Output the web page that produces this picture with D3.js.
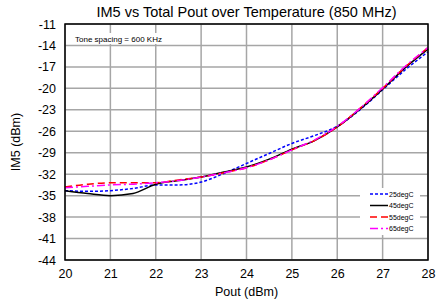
<!DOCTYPE html>
<html>
<head>
<meta charset="utf-8">
<script src="https://cdn.jsdelivr.net/npm/d3@7"></script>
<style>
  body { margin: 0; background: #fff; }
  text { font-family: "Liberation Sans", Arial, sans-serif; }
</style>
</head>
<body>
<div id="chart"></div>
<script>
var margin = {top: 24, right: 14, bottom: 45, left: 65},
    width = 442 - margin.left - margin.right,
    height = 305 - margin.top - margin.bottom;

// data
var pout = [20, 20.5, 21, 21.5, 22, 22.5, 23, 23.5, 24, 24.5, 25, 25.5, 26, 26.5, 27, 27.5, 28];
var im5_25 = [-34.3, -34.4, -34.3, -34.0, -33.5, -33.5, -33.1, -31.9, -30.5, -29.1, -27.7, -26.6, -25.3, -23.0, -20.2, -17.4, -14.9];
var im5_45 = [-34.3, -34.7, -35.0, -34.7, -33.4, -32.9, -32.4, -31.7, -31.0, -29.9, -28.5, -27.3, -25.4, -22.9, -20.1, -17.1, -14.5];
var im5_55 = [-33.8, -33.4, -33.2, -33.2, -33.2, -32.8, -32.4, -31.8, -31.1, -30.0, -28.6, -27.3, -25.4, -22.8, -20.0, -17.0, -14.3];
var im5_65 = [-33.9, -33.7, -33.5, -33.4, -33.2, -32.9, -32.4, -31.8, -31.1, -30.0, -28.6, -27.2, -25.3, -22.8, -19.9, -16.9, -14.3];
var xTicks = [20, 21, 22, 23, 24, 25, 26, 27, 28];
var yTicks = [-11, -14, -17, -20, -23, -26, -29, -32, -35, -38, -41, -44];

var series = [
  {name: "25degC", values: im5_25, color: "#0000ff", dash: "3,2"},
  {name: "45degC", values: im5_45, color: "#000000", dash: null},
  {name: "55degC", values: im5_55, color: "#ff0000", dash: "7,4"},
  {name: "65degC", values: im5_65, color: "#ff00ff", dash: "8,3,2,3"}
];

var x = d3.scaleLinear().domain([20, 28]).range([0, width]);
var y = d3.scaleLinear().domain([-44, -11]).range([height, 0]);

var svg = d3.select("#chart").append("svg")
    .attr("width", 442)
    .attr("height", 305);

svg.append("text")
    .attr("x", margin.left + width / 2)
    .attr("y", 17)
    .attr("text-anchor", "middle")
    .style("font-size", "14.5px")
    .text("IM5 vs Total Pout over Temperature (850 MHz)");

var g = svg.append("g")
    .attr("transform", "translate(" + margin.left + "," + margin.top + ")");

// grid
g.append("g").selectAll("line")
  .data(xTicks)
  .join("line")
    .attr("x1", d => x(d)).attr("x2", d => x(d))
    .attr("y1", 0).attr("y2", height)
    .attr("stroke", "#a6a6a6").attr("stroke-width", 1.5);

g.append("g").selectAll("line")
  .data(yTicks)
  .join("line")
    .attr("x1", 0).attr("x2", width)
    .attr("y1", d => y(d)).attr("y2", d => y(d))
    .attr("stroke", "#a6a6a6").attr("stroke-width", 1.5);

// note box
g.append("rect")
    .attr("x", 1).attr("y", 9)
    .attr("width", 120).attr("height", 11)
    .attr("fill", "#fff");
g.append("text")
    .attr("x", 10).attr("y", 17.5)
    .style("font-size", "8px")
    .text("Tone spacing = 600 KHz");

// axes (plain hyphen minus like the original)
var xAxis = g.append("g")
    .attr("transform", "translate(0," + height + ")")
    .call(d3.axisBottom(x).tickValues(xTicks).tickFormat(d => String(d)).tickSize(0).tickPadding(9));
var yAxis = g.append("g")
    .call(d3.axisLeft(y).tickValues(yTicks).tickFormat(d => String(d)).tickSize(0).tickPadding(9));
[xAxis, yAxis].forEach(a => {
  a.select(".domain").remove();
  a.selectAll("text").style("font-size", "12.5px").attr("fill", "#000");
});

// curves
var line = d3.line()
    .x((d, i) => x(pout[i]))
    .y(d => y(d))
    .curve(d3.curveMonotoneX);

g.append("g").selectAll("path")
  .data(series)
  .join("path")
    .attr("fill", "none")
    .attr("stroke", d => d.color)
    .attr("stroke-width", 1.5)
    .attr("stroke-dasharray", d => d.dash)
    .attr("d", d => line(d.values));

// frame
g.append("rect")
    .attr("width", width).attr("height", height)
    .attr("fill", "none").attr("stroke", "#000").attr("stroke-width", 1.5);

// legend
var legend = g.append("g").attr("transform", "translate(" + (360 - margin.left) + "," + (188 - margin.top) + ")");
legend.append("rect")
    .attr("width", 60).attr("height", 47)
    .attr("fill", "#fff");
var item = legend.selectAll("g.item")
  .data(series)
  .join("g")
    .attr("class", "item")
    .attr("transform", (d, i) => "translate(0," + (6 + i * 11.5) + ")");
item.append("line")
    .attr("x1", 10).attr("x2", 28)
    .attr("stroke", d => d.color)
    .attr("stroke-width", 1.5)
    .attr("stroke-dasharray", d => d.dash);
item.append("text")
    .attr("x", 29).attr("y", 2.5)
    .style("font-size", "7px")
    .text(d => d.name);

// axis titles
svg.append("text")
    .attr("x", margin.left + width / 2)
    .attr("y", 296)
    .attr("text-anchor", "middle")
    .style("font-size", "12.5px")
    .text("Pout (dBm)");
svg.append("text")
    .attr("transform", "translate(20," + (margin.top + height / 2) + ") rotate(-90)")
    .attr("text-anchor", "middle")
    .style("font-size", "12.5px")
    .text("IM5 (dBm)");
</script>
</body>
</html>
